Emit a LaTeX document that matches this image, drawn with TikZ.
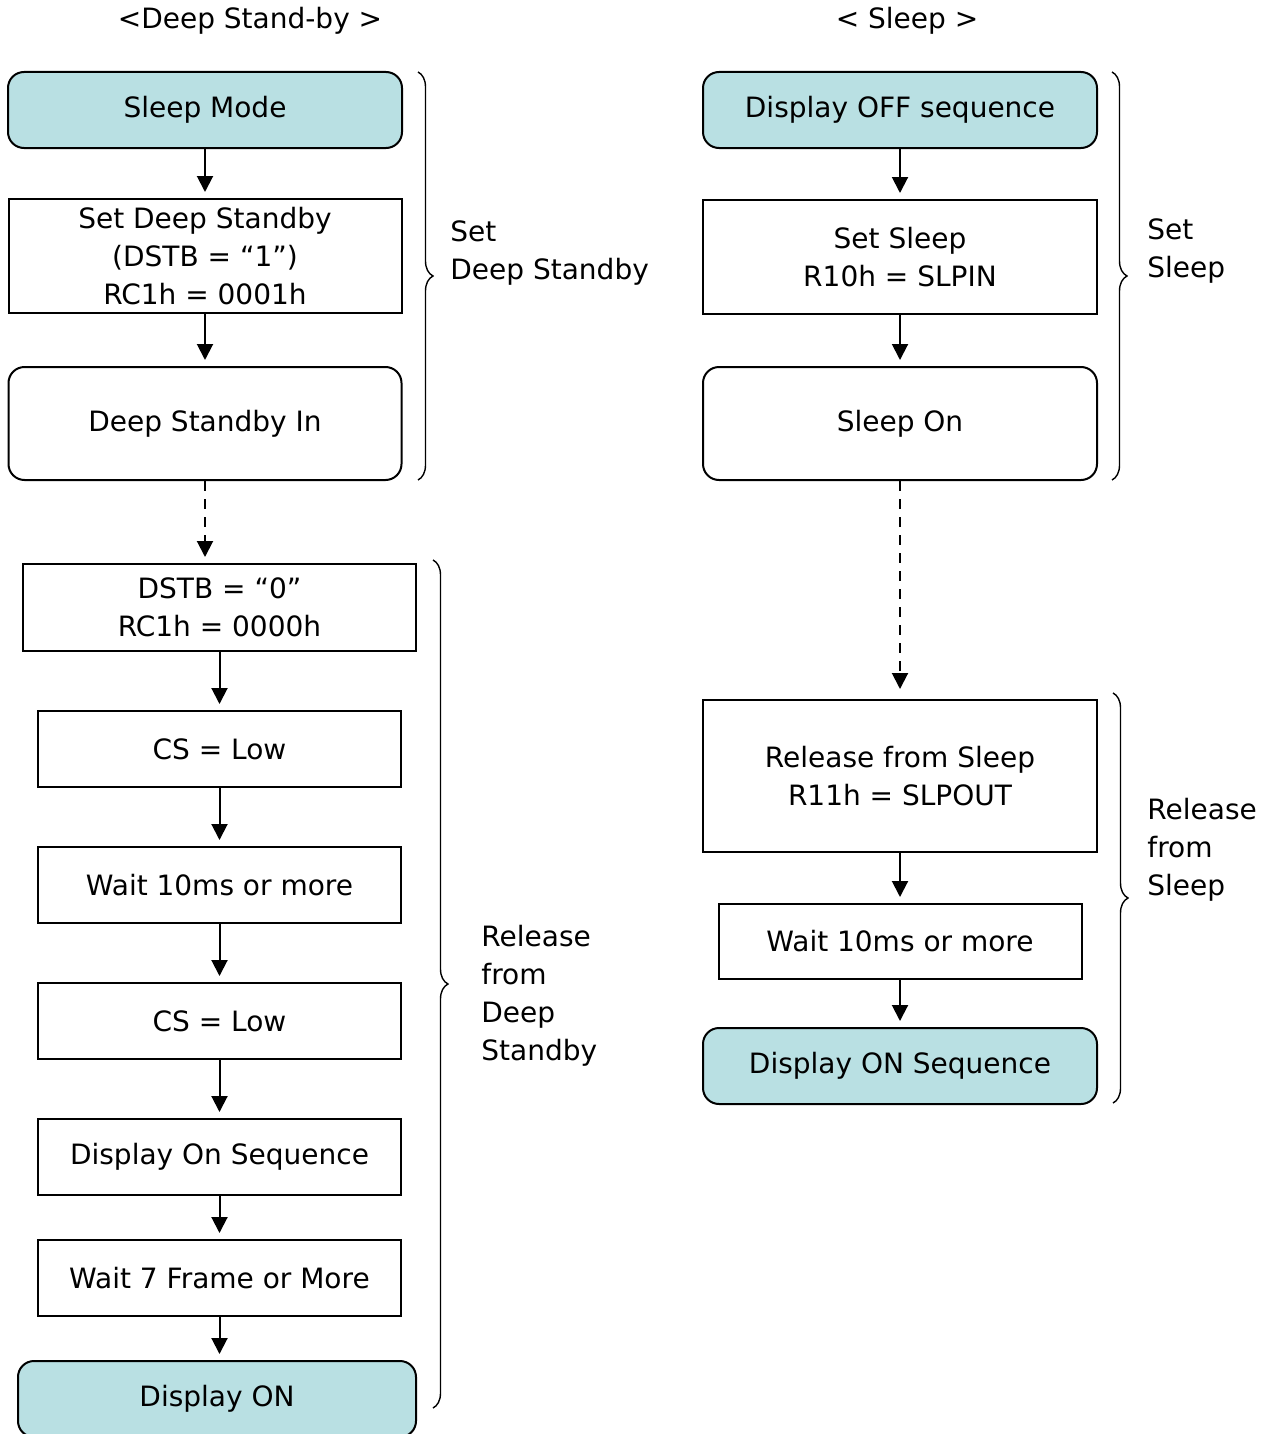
\documentclass[tikz,border=0pt]{standalone}
\usepackage{fontspec}
\setmainfont{DejaVu Sans}
\usetikzlibrary{positioning,shapes,shadows,arrows,arrows.meta,fit,decorations.pathreplacing}
\definecolor{stepfill}{RGB}{185,224,227}
\tikzset{
  every node/.style={font=\fontsize{14}{19}\selectfont},
  plainbox/.style={draw,line width=1,align=center,inner sep=0pt},
  roundbox/.style={plainbox,rounded corners=8pt},
  fillbox/.style={roundbox,fill=stepfill},
  flow/.style={line width=1,-{Triangle[width=8pt,length=8pt]},shorten >=3pt},
  waitflow/.style={flow,dashed,dash pattern=on 5pt off 4pt},
  bracket/.style={line width=0.7,decorate,decoration={brace,amplitude=7.5pt}},
  sidetext/.style={align=left,anchor=west,inner sep=0pt}
}

\begin{document}
\begin{tikzpicture}[x=0.5pt,y=-0.5pt]
\useasboundingbox (0,0) rectangle (1270,1434);

% titles
\node (lefttitle) at (250,21) {<Deep Stand-by >};
\node (righttitle) at (907,21) {< Sleep >};

% deep stand-by column
\node[fillbox,minimum width=197pt,minimum height=38pt] (sleepmode) at (205,110) {Sleep Mode};
\node[plainbox,minimum width=196.5pt,minimum height=57pt] (setdstb) at (205,256) {Set Deep Standby\\(DSTB = “1”)\\RC1h = 0001h};
\node[roundbox,minimum width=196.5pt,minimum height=56.5pt] (dstbin) at (205,423.5) {Deep Standby In};
\node[plainbox,minimum width=196.5pt,minimum height=43.5pt] (dstbzero) at (219.5,607.5) {DSTB = “0”\\RC1h = 0000h};
\node[plainbox,minimum width=181.5pt,minimum height=38pt] (cslowa) at (219.5,749) {CS = Low};
\node[plainbox,minimum width=181.5pt,minimum height=38pt] (waitten) at (219.5,885) {Wait 10ms or more};
\node[plainbox,minimum width=181.5pt,minimum height=38pt] (cslowb) at (219.5,1021) {CS = Low};
\node[plainbox,minimum width=181.5pt,minimum height=38pt] (dispseq) at (219.5,1157) {Display On Sequence};
\node[plainbox,minimum width=181.5pt,minimum height=38pt] (waitseven) at (219.5,1278) {Wait 7 Frame or More};
\node[fillbox,minimum width=199pt,minimum height=38pt] (dispon) at (217,1399) {Display ON};

\draw[flow] (sleepmode) -- (setdstb);
\draw[flow] (setdstb) -- (dstbin);
\draw[waitflow] (dstbin.south) -- (dstbin.south |- dstbzero.north);
\draw[flow] (dstbzero) -- (cslowa);
\draw[flow] (cslowa) -- (waitten);
\draw[flow] (waitten) -- (cslowb);
\draw[flow] (cslowb) -- (dispseq);
\draw[flow] (dispseq) -- (waitseven);
\draw[flow] (waitseven) -- (waitseven.south |- dispon.north);

\draw[bracket] (418,72) -- (418,480);
\node[sidetext] (setdstblabel) at (450,253) {Set\\Deep Standby};
\draw[bracket] (433,560) -- (433,1408);
\node[sidetext] (reldstblabel) at (481,995.5) {Release\\from\\Deep\\Standby};

% sleep column
\node[fillbox,minimum width=197pt,minimum height=38pt] (dispoff) at (900,110) {Display OFF sequence};
\node[plainbox,minimum width=197pt,minimum height=57pt] (setsleep) at (900,257) {Set Sleep\\R10h = SLPIN};
\node[roundbox,minimum width=197pt,minimum height=56.5pt] (sleepon) at (900,423.5) {Sleep On};
\node[plainbox,minimum width=197pt,minimum height=76pt] (relsleep) at (900,776) {Release from Sleep\\R11h = SLPOUT};
\node[plainbox,minimum width=181.5pt,minimum height=37.5pt] (waittenb) at (900,941.5) {Wait 10ms or more};
\node[fillbox,minimum width=197pt,minimum height=38pt] (disponseq) at (900,1066) {Display ON Sequence};

\draw[flow] (dispoff) -- (setsleep);
\draw[flow] (setsleep) -- (sleepon);
\draw[waitflow,shorten >=5pt] (sleepon) -- (relsleep);
\draw[flow] (relsleep) -- (waittenb);
\draw[flow] (waittenb) -- (disponseq);

\draw[bracket] (1112,72) -- (1112,480);
\node[sidetext] (setsleeplabel) at (1147,251) {Set\\Sleep};
\draw[bracket] (1113,693) -- (1113,1103);
\node[sidetext] (relsleeplabel) at (1147,850) {Release\\from\\Sleep};
\end{tikzpicture}
\end{document}
